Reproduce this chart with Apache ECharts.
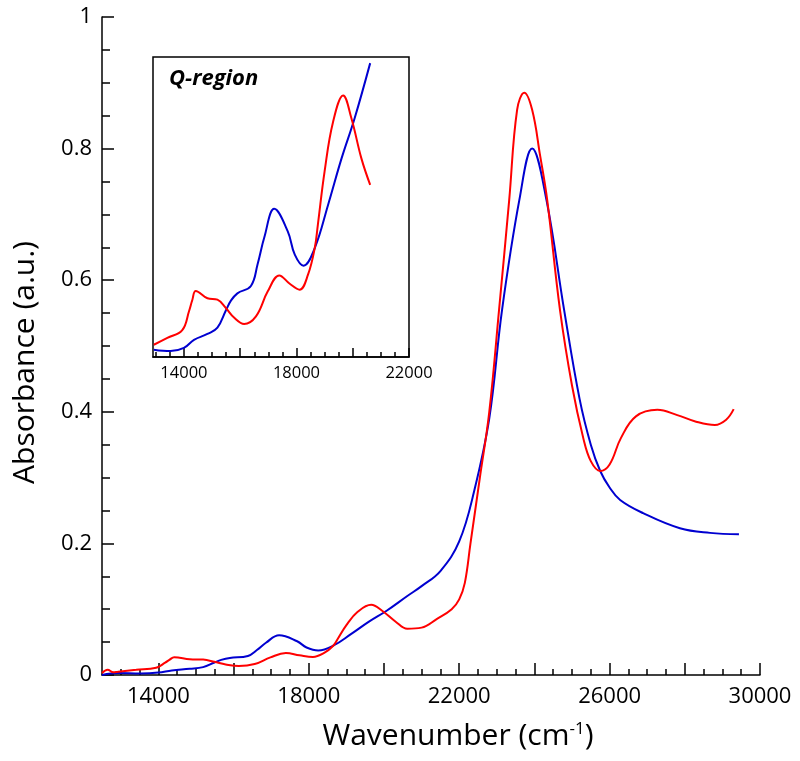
<!DOCTYPE html>
<html>
<head>
<meta charset="utf-8">
<script src="https://cdn.jsdelivr.net/npm/echarts@6/dist/echarts.min.js"></script>
<style>html,body{margin:0;padding:0;background:#fff}#c{width:800px;height:761px}</style>
</head>
<body>
<div id="c"></div>
<script>
// ---- data ----
var redW = [12500,12650,12800,12930,13410,13940,14180,14300,14420,14835,15190,15490,15790,16140,16560,16980,17390,17750,18110,18410,18650,18760,19000,19300,19660,19950,20310,20620,21000,21400,21800,22000,22150,22300,22550,22800,23060,23330,23540,23730,23940,24150,24340,24680,25000,25300,25500,25750,26000,26300,26700,27270,27800,28300,28800,29100,29300];
var redA = [0.003,0.008,0.004,0.005,0.0078,0.011,0.0187,0.0234,0.027,0.024,0.0234,0.020,0.016,0.0135,0.0166,0.0268,0.0333,0.030,0.0275,0.0336,0.0445,0.054,0.0758,0.096,0.1068,0.0976,0.081,0.0703,0.072,0.085,0.100,0.115,0.14,0.20,0.30,0.40,0.555,0.722,0.859,0.885,0.859,0.79,0.722,0.555,0.44,0.36,0.325,0.31,0.32,0.36,0.393,0.403,0.395,0.385,0.38,0.388,0.404];
var blueW = [12500,12930,13525,14000,14357,14835,15190,15490,15670,15900,16380,16620,16860,17210,17690,17940,18250,18650,19120,19600,20070,20620,21000,21500,22000,22400,22800,23140,23600,23940,24320,24790,25200,25500,25750,26000,26280,26890,27870,28670,29440];
var blueA = [0.0,0.003,0.0024,0.0037,0.007,0.0094,0.012,0.019,0.023,0.026,0.029,0.038,0.049,0.0605,0.0513,0.0418,0.0373,0.0445,0.062,0.081,0.0976,0.12,0.135,0.158,0.203,0.28,0.39,0.555,0.722,0.80,0.722,0.555,0.42,0.35,0.31,0.285,0.266,0.246,0.223,0.216,0.214];

var mainXLabels = [14000,18000,22000,26000,30000];
var mainXMajorTicks = [14000,16000,18000,20000,22000,24000,26000,28000,30000];
var insetXLabels = [14000,18000,22000];
var insetXMajorTicks = [14000,16000,18000,20000,22000];

var mainXMin = 12500, mainXMax = 30000;
var insetXMin = 12900, insetXMax = 22000;
var insetCut = 20650;

function minorTicks(from, to, step, skip) {
  var out = [];
  for (var v = from; v <= to; v += step) { if (v % skip !== 0) out.push(v); }
  return out;
}
function pairs(w, a, lo, hi) {
  var out = [];
  for (var i = 0; i < w.length; i++) { if (w[i] >= lo && w[i] <= hi) out.push([w[i], a[i]]); }
  return out;
}

var FONT = 'Open Sans';
var RED = '#ff0000', BLUE = '#0000d0';
var chart = echarts.init(document.getElementById('c'), null, {renderer: 'canvas'});

var axisLineStyle = {color: '#000', width: 1.5};
function lineSeries(xi, yi, data, color, z) {
  return {type: 'line', xAxisIndex: xi, yAxisIndex: yi, data: data, smooth: 0.4,
          showSymbol: false, lineStyle: {color: color, width: 2}, z: z};
}
var option = {
  animation: false,
  backgroundColor: '#fff',
  title: {
    text: 'Q-region', left: 164, top: 63,
    textStyle: {fontFamily: FONT, fontSize: 22, fontWeight: 'bold', fontStyle: 'italic', color: '#000'}
  },
  grid: [
    {left: 102, top: 17, right: 40, bottom: 86},
    {left: 153, top: 57, width: 256, height: 300, show: true, borderColor: '#000', borderWidth: 1.5, backgroundColor: '#fff'}
  ],
  xAxis: [
    {
      type: 'value', gridIndex: 0, min: mainXMin, max: mainXMax, position: 'bottom',
      name: '{a|Wavenumber (cm}{s|-1}{a|)}', nameLocation: 'middle', nameGap: 46,
      nameTextStyle: {padding: [0, 0, 0, 54], rich: {
        a: {fontFamily: FONT, fontSize: 30, color: '#000'},
        s: {fontFamily: FONT, fontSize: 17, color: '#000', verticalAlign: 'top', padding: [0, 0, 10, 0]}
      }},
      axisLine: {lineStyle: axisLineStyle},
      axisTick: {show: true, inside: true, length: 12, customValues: mainXMajorTicks, lineStyle: axisLineStyle},
      axisLabel: {customValues: mainXLabels, fontFamily: FONT, fontSize: 22, color: '#000', margin: 11, formatter: function (v) { return String(v); }},
      splitLine: {show: false}
    },
    {
      type: 'value', gridIndex: 0, min: mainXMin, max: mainXMax, position: 'bottom',
      axisLine: {show: false},
      axisTick: {show: true, inside: true, length: 6, customValues: minorTicks(13000, 29500, 500, 2000), lineStyle: axisLineStyle},
      axisLabel: {show: false}, splitLine: {show: false}
    },
    {
      type: 'value', gridIndex: 1, min: insetXMin, max: insetXMax, position: 'bottom',
      axisLine: {lineStyle: axisLineStyle},
      axisTick: {show: true, inside: true, length: 9, customValues: insetXMajorTicks, lineStyle: axisLineStyle},
      axisLabel: {customValues: insetXLabels, fontFamily: FONT, fontSize: 16.5, color: '#000', margin: 8, formatter: function (v) { return String(v); }},
      splitLine: {show: false}
    },
    {
      type: 'value', gridIndex: 1, min: insetXMin, max: insetXMax, position: 'bottom',
      axisLine: {show: false},
      axisTick: {show: true, inside: true, length: 5, customValues: minorTicks(13000, 21500, 500, 2000), lineStyle: axisLineStyle},
      axisLabel: {show: false}, splitLine: {show: false}
    }
  ],
  yAxis: [
    {
      type: 'value', gridIndex: 0, min: 0, max: 1, interval: 0.2,
      name: 'Absorbance (a.u.)', nameLocation: 'middle', nameGap: 62,
      nameTextStyle: {fontFamily: FONT, fontSize: 30, color: '#000', padding: [0, 33, 0, 0]},
      axisLine: {show: true, lineStyle: axisLineStyle},
      axisTick: {show: true, inside: true, length: 12, lineStyle: axisLineStyle},
      minorTick: {show: true, splitNumber: 4, length: 8, lineStyle: axisLineStyle},
      axisLabel: {fontFamily: FONT, fontSize: 22, color: '#000', margin: 10, formatter: function (v) { return String(Math.round(v * 10) / 10); }},
      splitLine: {show: false}
    },
    {
      type: 'value', gridIndex: 1, min: 0, max: 0.1225, show: false
    }
  ],
  series: [
    lineSeries(0, 0, pairs(blueW, blueA, mainXMin, mainXMax), BLUE, 3),
    lineSeries(0, 0, pairs(redW, redA, mainXMin, mainXMax), RED, 4),
    lineSeries(2, 1, pairs(blueW, blueA, insetXMin, insetCut), BLUE, 5),
    lineSeries(2, 1, pairs(redW, redA, insetXMin, insetCut), RED, 6)
  ]
};
chart.setOption(option);
</script>
</body>
</html>
